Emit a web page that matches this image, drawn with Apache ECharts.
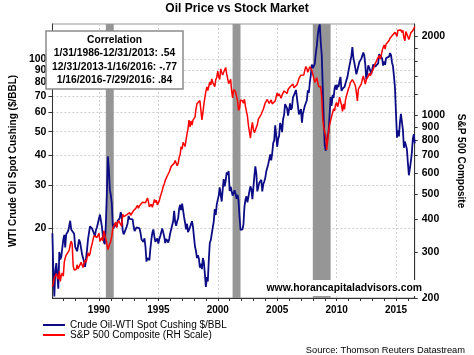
<!DOCTYPE html>
<html><head><meta charset="utf-8">
<script src="https://cdn.jsdelivr.net/npm/echarts@6/dist/echarts.min.js"></script>
<style>html,body{margin:0;padding:0;background:#fff}#c{width:474px;height:355px}</style>
</head><body><div id="c"></div>
<script>
const chartTitle = 'Oil Price vs Stock Market';
const seriesNames = ['Crude Oil-WTI Spot Cushing $/BBL', 'S&P 500 Composite (RH Scale)'];
const leftAxisName = 'WTI Crude Oil Spot Cushing ($/BBL)';
const rightAxisName = 'S&P 500 Composite';
const sourceText = 'Source: Thomson Reuters Datastream';
const watermark = 'www.horancapitaladvisors.com';
const correlationTitle = 'Correlation';
const correlationLines = ['1/31/1986-12/31/2013: .54', '12/31/2013-1/16/2016: -.77', '1/16/2016-7/29/2016: .84'];
const startDate = '1986-01-31';
const endDate = '2016-07-29';

// monthly values, Jan 1986 .. Jul 2016
const oilWTI = [
 19.0,13.3,10.4,13.3,14.3,12.8,11.2,15.9,14.8,15.2,15.0,17.9,
 18.7,16.6,18.8,18.7,19.4,20.3,21.4,19.7,19.6,19.9,18.9,16.7,
 17.0,16.0,16.9,17.9,17.4,16.5,15.5,15.5,14.5,13.8,14.0,16.3,
 18.0,17.9,20.3,20.4,19.9,20.2,19.6,18.5,19.6,20.1,19.8,21.8,
 22.7,21.5,20.3,18.5,17.5,17.1,20.7,27.3,39.5,35.2,28.8,27.3,
 25.2,20.5,19.9,20.8,21.2,20.2,21.4,21.7,21.9,23.2,22.5,19.5,
 18.8,19.0,18.9,20.2,20.9,22.4,21.8,21.4,21.9,21.7,20.3,19.4,
 19.1,20.1,20.3,20.3,19.9,19.1,17.9,18.0,17.5,18.1,16.7,14.5,
 15.0,14.8,14.7,16.4,17.9,19.1,19.7,18.4,17.5,17.7,18.1,17.2,
 18.0,18.5,18.6,19.9,19.7,18.4,17.3,18.0,18.2,17.4,18.0,19.0,
 18.9,19.1,21.3,23.5,21.2,20.4,21.3,21.9,24.0,24.9,23.7,25.2,
 25.1,22.2,21.0,19.7,20.8,19.2,19.6,19.9,19.8,21.3,20.2,18.3,
 16.7,16.1,15.0,15.4,14.9,13.7,14.2,13.5,15.0,14.4,12.9,11.4,
 12.5,12.0,14.7,17.3,17.8,17.9,20.1,21.3,23.9,22.6,25.0,26.1,
 27.2,29.4,29.9,25.7,28.8,31.8,29.7,31.3,33.9,33.1,34.4,28.4,
 29.6,29.6,27.2,27.4,28.6,27.6,26.4,27.4,25.9,22.2,19.6,19.4,
 19.7,20.7,24.5,26.2,27.0,25.5,26.9,28.4,29.7,28.9,26.3,29.4,
 32.9,35.9,33.5,28.3,28.1,30.7,30.8,31.6,28.3,30.3,31.1,32.2,
 34.3,34.7,36.7,36.7,40.3,38.0,40.7,44.9,45.9,53.1,48.5,43.3,
 46.8,48.0,54.3,53.0,49.8,56.3,58.7,65.0,65.6,62.4,58.3,59.4,
 65.5,61.6,62.9,69.4,70.8,70.9,74.4,73.0,63.8,58.9,59.4,62.0,
 54.5,59.3,60.4,64.0,63.5,67.5,74.1,72.4,79.9,85.8,94.8,91.7,
 93.0,95.4,105.5,112.6,125.4,134.0,139.0,116.7,104.1,76.6,57.3,44.0,
 41.7,42.5,48.0,50.0,59.0,69.6,64.0,71.0,69.0,75.7,78.0,74.5,
 78.3,76.4,81.2,84.3,73.7,75.3,76.3,76.6,75.2,81.9,84.3,89.2,
 89.2,88.6,102.9,112.0,100.9,96.3,97.3,86.3,85.5,86.3,97.2,98.6,
 100.3,102.2,106.2,103.3,94.7,82.3,87.9,94.1,94.5,89.5,86.5,87.9,
 94.8,95.3,92.9,92.0,94.5,95.8,104.6,106.6,106.3,100.5,93.9,97.6,
 94.6,100.8,100.8,102.1,102.2,105.8,103.6,96.5,93.2,84.4,75.8,59.3,
 47.2,50.6,47.8,54.5,59.3,59.8,50.9,42.9,45.5,46.2,42.4,37.2,
 33.0,33.5,37.6,40.8,46.7,48.8,44.7
];
const sp500 = [
 221.0,226.9,238.9,235.5,247.4,250.8,236.1,252.9,231.3,244.0,249.2,242.2,
 274.1,284.2,291.7,288.4,290.1,304.0,318.7,329.8,321.8,265.0,256.0,258.0,
 257.1,267.8,258.9,261.3,262.2,273.5,272.0,261.5,271.9,279.0,273.7,277.7,
 297.5,288.9,294.9,309.6,320.5,318.0,346.1,351.5,349.2,340.4,346.0,353.4,
 329.1,331.9,339.9,330.8,361.2,358.0,356.2,322.6,306.1,304.0,322.2,330.2,
 343.9,367.1,375.2,375.3,389.8,371.2,387.8,395.4,387.9,392.5,375.2,417.1,
 408.8,412.7,403.7,415.0,415.4,408.1,424.2,414.0,417.8,418.7,431.4,435.7,
 438.8,443.4,451.7,440.2,450.2,450.5,448.1,463.6,458.9,467.8,461.8,466.5,
 481.6,467.1,445.8,450.9,456.5,444.3,458.3,475.5,462.7,472.4,453.7,459.3,
 470.4,487.4,500.7,514.7,533.4,544.8,562.1,561.9,584.4,581.5,605.4,615.9,
 636.0,640.4,645.5,654.2,669.1,670.6,640.0,652.0,687.3,705.3,757.0,740.7,
 786.2,790.8,757.1,801.3,848.3,885.1,954.3,899.5,947.3,914.6,955.4,970.4,
 980.3,1049.3,1101.8,1111.8,1090.8,1133.8,1120.7,957.3,1017.0,1098.7,1163.6,1229.2,
 1279.6,1238.3,1286.4,1335.2,1301.8,1372.7,1328.7,1320.4,1282.7,1362.9,1389.0,1469.3,
 1394.5,1366.4,1498.6,1452.4,1420.6,1454.6,1430.8,1517.7,1436.5,1429.4,1315.2,1320.3,
 1366.0,1239.9,1160.3,1249.5,1255.8,1224.4,1211.2,1133.6,1040.9,1059.8,1139.5,1148.1,
 1130.2,1106.7,1147.4,1076.9,1067.1,989.8,911.6,916.1,815.3,885.8,936.3,879.8,
 855.7,841.2,848.2,916.9,963.6,974.5,990.3,1008.0,996.0,1050.7,1058.2,1111.9,
 1131.1,1144.9,1126.2,1107.3,1120.7,1140.8,1101.7,1104.2,1114.6,1130.2,1173.8,1211.9,
 1181.3,1203.6,1180.6,1156.9,1191.5,1191.3,1234.2,1220.3,1228.8,1207.0,1249.5,1248.3,
 1280.1,1280.7,1294.9,1310.6,1270.1,1270.2,1276.7,1303.8,1335.9,1377.9,1400.6,1418.3,
 1438.2,1406.8,1420.9,1482.4,1530.6,1503.4,1455.3,1474.0,1526.8,1549.4,1481.1,1468.4,
 1378.6,1330.6,1322.7,1385.6,1400.4,1280.0,1267.4,1282.8,1166.4,968.8,896.2,903.3,
 825.9,735.1,797.9,872.8,919.1,919.3,987.5,1020.6,1057.1,1036.2,1095.6,1115.1,
 1073.9,1104.5,1169.4,1186.7,1089.4,1030.7,1101.6,1049.3,1141.2,1183.3,1180.6,1257.6,
 1286.1,1327.2,1325.8,1363.6,1345.2,1320.6,1292.3,1218.9,1131.4,1253.3,1247.0,1257.6,
 1312.4,1365.7,1408.5,1397.9,1310.3,1362.2,1379.3,1406.6,1440.7,1412.2,1416.2,1426.2,
 1498.1,1514.7,1569.2,1597.6,1630.7,1606.3,1685.7,1633.0,1681.6,1756.5,1805.8,1848.4,
 1782.6,1859.5,1872.3,1884.0,1923.6,1960.2,1930.7,2003.4,1972.3,2018.1,2067.6,2058.9,
 1995.0,2104.5,2067.9,2085.5,2107.4,2063.1,2103.8,1972.2,1920.0,2079.4,2080.4,2043.9,
 1940.2,1932.2,2059.7,2065.3,2097.0,2098.9,2173.6
];
const leftTicks = [20, 30, 40, 50, 60, 70, 80, 90, 100];
const rightLabels = [200, 300, 400, 500, 600, 700, 800, 900, 1000, 2000];
const rightMinorTicks = [1200, 1400, 1600, 1800];
const yearLabels = ['1990-01-01','1995-01-01','2000-01-01','2005-01-01','2010-01-01','2015-01-01'];
const yearTicks = ['1987-01-01','1988-01-01','1989-01-01','1990-01-01','1991-01-01','1992-01-01','1993-01-01','1994-01-01','1995-01-01','1996-01-01','1997-01-01','1998-01-01','1999-01-01','2000-01-01','2001-01-01','2002-01-01','2003-01-01','2004-01-01','2005-01-01','2006-01-01','2007-01-01','2008-01-01','2009-01-01','2010-01-01','2011-01-01','2012-01-01','2013-01-01','2014-01-01','2015-01-01','2016-01-01'];
const recessions = [['1990-07-31','1991-03-31'],['2001-03-31','2001-11-30'],['2007-12-31','2009-06-30']];

// month-end dates as timestamps
function pad(n){return (n<10?'0':'')+n;}
const dates = oilWTI.map((_, i) => {
  const y = 1986 + Math.floor(i / 12), m = i % 12;
  const d = new Date(Date.UTC(y, m + 1, 0)).getUTCDate();
  return y + '-' + pad(m + 1) + '-' + pad(d);
});
dates[dates.length - 1] = endDate;
const ts = s => Date.parse(s + 'T00:00:00Z');

const FONT = "'Liberation Sans', Arial, sans-serif";
const boxText = (t, y) => ({type: 'text', z: 100, x: 114.5, y: y,
  style: {text: t, align: 'center', verticalAlign: 'middle', font: 'bold 10.3px ' + FONT, fill: '#000'}});
const chart = echarts.init(document.getElementById('c'), null, {renderer: 'canvas'});
chart.setOption({
  animation: false,
  backgroundColor: '#fff',
  textStyle: {fontFamily: FONT},
  title: {text: chartTitle, left: 'center', top: 3, padding: 0,
    textStyle: {fontSize: 12, fontWeight: 'bold', color: '#000', fontFamily: FONT}},
  legend: {
    orient: 'vertical', left: 43, top: 320, itemGap: 0, itemWidth: 22, itemHeight: 2,
    icon: 'rect', padding: 0,
    data: seriesNames,
    textStyle: {fontSize: 10, color: '#000', lineHeight: 9.5, fontFamily: FONT}
  },
  grid: {left: 41, right: 47, top: 24, bottom: 57, show: true, borderColor: '#999', borderWidth: 1, containLabel: false},
  xAxis: [{
    type: 'value', min: ts(startDate), max: ts(endDate), position: 'bottom',
    axisLine: {show: true, onZero: false, lineStyle: {color: '#333'}},
    axisTick: {show: false, customValues: yearLabels.map(ts)},
    axisLabel: {customValues: yearLabels.map(ts), fontSize: 10, fontWeight: 'bold', color: '#000', margin: 7,
      formatter: v => String(new Date(v).getUTCFullYear())},
    splitLine: {show: true, lineStyle: {color: '#cfcfcf', type: [2, 2]}}
  }, {
    type: 'value', min: ts(startDate), max: ts(endDate), position: 'bottom',
    axisLine: {show: false},
    axisTick: {show: true, customValues: yearTicks.map(ts), length: 3, lineStyle: {color: '#333'}},
    axisLabel: {show: false},
    splitLine: {show: false}
  }],
  yAxis: [{
    type: 'log', logBase: 10, min: 10.25, max: 139.5, position: 'left',
    name: leftAxisName, nameLocation: 'middle', nameGap: 27, nameRotate: 90,
    nameTextStyle: {fontSize: 10, fontWeight: 'bold', color: '#000', fontFamily: FONT},
    axisLine: {show: true, onZero: false, lineStyle: {color: '#333'}},
    axisTick: {show: true, customValues: leftTicks, length: 4, lineStyle: {color: '#333'}},
    axisLabel: {customValues: leftTicks, fontSize: 10.5, fontWeight: 'bold', color: '#000', margin: 6,
      formatter: v => String(Math.round(v))},
    splitLine: {show: true, lineStyle: {color: '#cfcfcf', type: [2, 2]}}
  }, {
    type: 'log', logBase: 10, min: 200, max: 2223, position: 'right',
    name: rightAxisName, nameLocation: 'middle', nameGap: 32, nameRotate: -90,
    nameTextStyle: {fontSize: 10, fontWeight: 'bold', color: '#000', fontFamily: FONT},
    axisLine: {show: true, onZero: false, lineStyle: {color: '#333'}},
    axisTick: {show: true, customValues: rightLabels.concat(rightMinorTicks), length: 3, lineStyle: {color: '#333'}},
    axisLabel: {customValues: rightLabels, fontSize: 10.5, fontWeight: 'bold', color: '#000', margin: 7,
      formatter: v => String(Math.round(v))},
    splitLine: {show: false}
  }],
  series: [{
    name: 'bands', type: 'line', xAxisIndex: 0, yAxisIndex: 0, z: 1, silent: true,
    data: dates.map((d, i) => [ts(d), oilWTI[i]]), showSymbol: false, symbol: 'none',
    lineStyle: {opacity: 0},
    markArea: {silent: true, itemStyle: {color: '#969696', opacity: 1},
      data: recessions.map(r => [{xAxis: ts(r[0])}, {xAxis: ts(r[1])}])}
  }, {
    name: seriesNames[0], type: 'line', xAxisIndex: 0, yAxisIndex: 0, z: 3,
    data: dates.map((d, i) => [ts(d), oilWTI[i]]), showSymbol: false, symbol: 'none',
    itemStyle: {color: '#0c0c86'}, lineStyle: {color: '#0c0c86', width: 1.8}
  }, {
    name: seriesNames[1], type: 'line', xAxisIndex: 0, yAxisIndex: 1, z: 4,
    data: dates.map((d, i) => [ts(d), sp500[i]]), showSymbol: false, symbol: 'none',
    itemStyle: {color: '#ff0000'}, lineStyle: {color: '#ff0000', width: 1.5}
  }],
  graphic: [
    {type: 'rect', z: 99, shape: {x: 46, y: 31, width: 137, height: 58},
      style: {fill: '#fff', stroke: '#8c8c8c', lineWidth: 1.5}},
    boxText(correlationTitle, 40),
    boxText(correlationLines[0], 53.5),
    boxText(correlationLines[1], 67),
    boxText(correlationLines[2], 80.5),
    {type: 'text', z: 100, x: 424, y: 288,
      style: {text: watermark, align: 'right', verticalAlign: 'middle', font: 'bold 10.4px ' + FONT, fill: '#000', backgroundColor: '#fff', padding: [3, 2]}},
    {type: 'text', z: 100, x: 465, y: 350,
      style: {text: sourceText, align: 'right', verticalAlign: 'middle', font: '9.3px ' + FONT, fill: '#000'}}
  ]
});
</script></body></html>
